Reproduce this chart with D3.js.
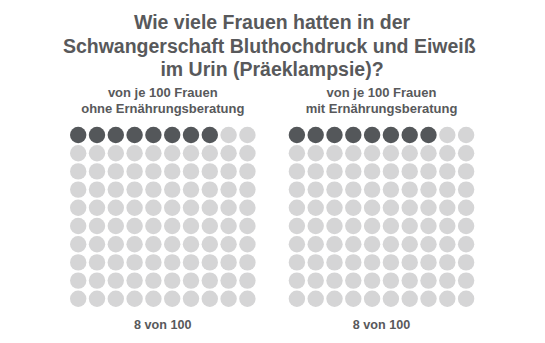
<!DOCTYPE html>
<html>
<head>
<meta charset="utf-8">
<script src="https://cdn.jsdelivr.net/npm/d3@7"></script>
<style>
  body { margin: 0; background: #fff; }
  text { font-family: "Liberation Sans", Arial, Helvetica, sans-serif; font-weight: bold; fill: #58595b; white-space: pre; }
</style>
</head>
<body>
<div id="chart"></div>
<script>
// trailing space on line 2 is in the original layout
var titleLines = ["Wie viele Frauen hatten in der", "Schwangerschaft Bluthochdruck und Eiweiß ", "im Urin (Präeklampsie)?"];
var groups = ["ohne Ernährungsberatung", "mit Ernährungsberatung"];
var subtitleTop = "von je 100 Frauen";
var affected = [8, 8];
var totals = [100, 100];
var valueLabels = ["8 von 100", "8 von 100"];

var width = 545,
    height = 343,
    cols = 10,
    rows = 10,
    colStep = 18.8,
    rowStep = 18.2,
    radius = 8.2,
    gridTop = 135,
    centers = [162.8, 381.5];

var svg = d3.select("#chart").append("svg")
    .attr("width", width)
    .attr("height", height);

svg.selectAll("text.title")
  .data(titleLines)
  .enter().append("text")
    .attr("class", "title")
    .attr("x", 272)
    .attr("y", function (d, i) { return 29 + i * 23.5; })
    .attr("text-anchor", "middle")
    .style("font-size", "19.5px")
    .text(function (d) { return d; });

var col = d3.scaleLinear().domain([0, cols - 1]).range([-colStep * 4.5, colStep * 4.5]);
var row = d3.scaleLinear().domain([0, rows - 1]).range([gridTop, gridTop + rowStep * 9]);

groups.forEach(function (g, gi) {
  var panel = svg.append("g").attr("transform", "translate(" + centers[gi] + ",0)");

  panel.append("text")
    .attr("y", 97)
    .attr("text-anchor", "middle")
    .style("font-size", "13px")
    .text(subtitleTop);

  panel.append("text")
    .attr("y", 113)
    .attr("text-anchor", "middle")
    .style("font-size", "13px")
    .text(g);

  panel.selectAll("circle")
    .data(d3.range(totals[gi]))
    .enter().append("circle")
      .attr("cx", function (d) { return col(d % cols); })
      .attr("cy", function (d) { return row(Math.floor(d / cols)); })
      .attr("r", radius)
      .attr("fill", function (d) { return d < affected[gi] ? "#54575a" : "#d5d5d6"; });

  panel.append("text")
    .attr("y", 329)
    .attr("text-anchor", "middle")
    .style("font-size", "12.6px")
    .text(valueLabels[gi]);
});
</script>
</body>
</html>
